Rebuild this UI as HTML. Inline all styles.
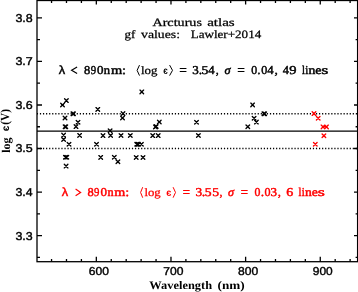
<!DOCTYPE html>
<html><head><meta charset="utf-8"><style>
html,body{margin:0;padding:0;background:#fff;}
svg{display:block;will-change:transform;}
text{text-rendering:geometricPrecision;}
</style></head><body>
<svg width="358" height="292" viewBox="0 0 358 292">
<rect x="37.0" y="0.5" width="320.60" height="261.20" fill="none" stroke="#000" stroke-width="1.3"/>
<path d="M37.00 257.35h3.0M357.60 257.35h-2.0M37.00 235.58h5.0M357.60 235.58h-3.6M37.00 213.81h3.0M357.60 213.81h-2.0M37.00 192.05h5.0M357.60 192.05h-3.6M37.00 170.28h3.0M357.60 170.28h-2.0M37.00 148.51h5.0M357.60 148.51h-3.6M37.00 126.75h3.0M357.60 126.75h-2.0M37.00 104.98h5.0M357.60 104.98h-3.6M37.00 83.21h3.0M357.60 83.21h-2.0M37.00 61.45h5.0M357.60 61.45h-3.6M37.00 39.68h3.0M357.60 39.68h-2.0M37.00 17.91h5.0M357.60 17.91h-3.6M51.55 261.70v-2.7M51.55 0.50v2.4M66.48 261.70v-2.7M66.48 0.50v2.4M81.41 261.70v-2.7M81.41 0.50v2.4M96.33 261.70v-5.0M96.33 0.50v4.0M111.26 261.70v-2.7M111.26 0.50v2.4M126.19 261.70v-2.7M126.19 0.50v2.4M141.12 261.70v-2.7M141.12 0.50v2.4M156.05 261.70v-2.7M156.05 0.50v2.4M170.98 261.70v-5.0M170.98 0.50v4.0M185.91 261.70v-2.7M185.91 0.50v2.4M200.83 261.70v-2.7M200.83 0.50v2.4M215.76 261.70v-2.7M215.76 0.50v2.4M230.69 261.70v-2.7M230.69 0.50v2.4M245.62 261.70v-5.0M245.62 0.50v4.0M260.55 261.70v-2.7M260.55 0.50v2.4M275.48 261.70v-2.7M275.48 0.50v2.4M290.40 261.70v-2.7M290.40 0.50v2.4M305.33 261.70v-2.7M305.33 0.50v2.4M320.26 261.70v-5.0M320.26 0.50v4.0M335.19 261.70v-2.7M335.19 0.50v2.4M350.12 261.70v-2.7M350.12 0.50v2.4" stroke="#000" stroke-width="1.3" fill="none"/>
<path d="M37.0 131.10H357.6" stroke="#000" stroke-width="1.3"/>
<path d="M37.0 113.69H357.6M37.0 148.51H357.6" stroke="#000" stroke-width="1.5" stroke-dasharray="1.2 1.867" stroke-dashoffset="-2.9"/>
<path d="M60.70 103.20L64.30 106.80M60.70 106.80L64.30 103.20M64.60 98.80L68.20 102.40M64.60 102.40L68.20 98.80M71.10 111.90L74.70 115.50M71.10 115.50L74.70 111.90M71.70 111.90L75.30 115.50M71.70 115.50L75.30 111.90M63.20 116.20L66.80 119.80M63.20 119.80L66.80 116.20M76.20 120.50L79.80 124.10M76.20 124.10L79.80 120.50M63.30 124.90L66.90 128.50M63.30 128.50L66.90 124.90M64.00 124.90L67.60 128.50M64.00 128.50L67.60 124.90M74.20 124.80L77.80 128.40M74.20 128.40L77.80 124.80M61.80 133.30L65.40 136.90M61.80 136.90L65.40 133.30M61.80 137.70L65.40 141.30M61.80 141.30L65.40 137.70M77.80 133.60L81.40 137.20M77.80 137.20L81.40 133.60M67.20 142.50L70.80 146.10M67.20 146.10L70.80 142.50M63.60 155.40L67.20 159.00M63.60 159.00L67.20 155.40M65.00 155.40L68.60 159.00M65.00 159.00L68.60 155.40M64.30 164.30L67.90 167.90M64.30 167.90L67.90 164.30M96.00 107.60L99.60 111.20M96.00 111.20L99.60 107.60M101.20 133.80L104.80 137.40M101.20 137.40L104.80 133.80M94.70 142.40L98.30 146.00M94.70 146.00L98.30 142.40M98.90 155.60L102.50 159.20M98.90 159.20L102.50 155.60M121.20 111.80L124.80 115.40M121.20 115.40L124.80 111.80M120.70 116.20L124.30 119.80M120.70 119.80L124.30 116.20M108.30 129.00L111.90 132.60M108.30 132.60L111.90 129.00M108.80 133.70L112.40 137.30M108.80 137.30L112.40 133.70M119.20 133.70L122.80 137.30M119.20 137.30L122.80 133.70M128.50 133.70L132.10 137.30M128.50 137.30L132.10 133.70M112.50 155.50L116.10 159.10M112.50 159.10L116.10 155.50M116.10 159.90L119.70 163.50M116.10 163.50L119.70 159.90M140.00 90.10L143.60 93.70M140.00 93.70L143.60 90.10M153.60 125.10L157.20 128.70M153.60 128.70L157.20 125.10M154.40 124.70L158.00 128.30M154.40 128.30L158.00 124.70M157.50 120.20L161.10 123.80M157.50 123.80L161.10 120.20M150.90 133.80L154.50 137.40M150.90 137.40L154.50 133.80M156.40 133.80L160.00 137.40M156.40 137.40L160.00 133.80M134.90 142.40L138.50 146.00M134.90 146.00L138.50 142.40M135.80 142.40L139.40 146.00M135.80 146.00L139.40 142.40M136.70 142.40L140.30 146.00M136.70 146.00L140.30 142.40M139.60 142.40L143.20 146.00M139.60 146.00L143.20 142.40M134.40 155.70L138.00 159.30M134.40 159.30L138.00 155.70M141.20 155.70L144.80 159.30M141.20 159.30L144.80 155.70M194.70 120.50L198.30 124.10M194.70 124.10L198.30 120.50M196.60 133.70L200.20 137.30M196.60 137.30L200.20 133.70M250.80 103.10L254.40 106.70M250.80 106.70L254.40 103.10M262.10 111.90L265.70 115.50M262.10 115.50L265.70 111.90M262.90 111.90L266.50 115.50M262.90 115.50L266.50 111.90M252.30 116.50L255.90 120.10M252.30 120.10L255.90 116.50M254.60 120.30L258.20 123.90M254.60 123.90L258.20 120.30M246.00 125.00L249.60 128.60M246.00 128.60L249.60 125.00" stroke="#000" stroke-width="1.35" fill="none" stroke-linecap="round"/>
<path d="M312.20 111.80L315.80 115.40M312.20 115.40L315.80 111.80M316.40 116.40L320.00 120.00M316.40 120.00L320.00 116.40M321.20 125.10L324.80 128.70M321.20 128.70L324.80 125.10M324.70 125.10L328.30 128.70M324.70 128.70L328.30 125.10M322.10 133.90L325.70 137.50M322.10 137.50L325.70 133.90M313.50 142.40L317.10 146.00M313.50 146.00L317.10 142.40" stroke="#f00" stroke-width="1.35" fill="none" stroke-linecap="round"/>
<text x="15.43" y="239.53" font-family="Liberation Sans" stroke="currentColor" stroke-width="0.4" font-size="11.4" fill="#000" color="#000" textLength="17.32" lengthAdjust="spacingAndGlyphs" xml:space="preserve">3.3</text>
<text x="15.43" y="196.00" font-family="Liberation Sans" stroke="currentColor" stroke-width="0.4" font-size="11.4" fill="#000" color="#000" textLength="17.13" lengthAdjust="spacingAndGlyphs" xml:space="preserve">3.4</text>
<text x="15.43" y="152.46" font-family="Liberation Sans" stroke="currentColor" stroke-width="0.4" font-size="11.4" fill="#000" color="#000" textLength="17.30" lengthAdjust="spacingAndGlyphs" xml:space="preserve">3.5</text>
<text x="15.43" y="108.93" font-family="Liberation Sans" stroke="currentColor" stroke-width="0.4" font-size="11.4" fill="#000" color="#000" textLength="17.32" lengthAdjust="spacingAndGlyphs" xml:space="preserve">3.6</text>
<text x="15.42" y="65.40" font-family="Liberation Sans" stroke="currentColor" stroke-width="0.4" font-size="11.4" fill="#000" color="#000" textLength="17.41" lengthAdjust="spacingAndGlyphs" xml:space="preserve">3.7</text>
<text x="15.43" y="21.86" font-family="Liberation Sans" stroke="currentColor" stroke-width="0.4" font-size="11.4" fill="#000" color="#000" textLength="17.32" lengthAdjust="spacingAndGlyphs" xml:space="preserve">3.8</text>
<text x="88.89" y="275.40" font-family="Liberation Sans" stroke="currentColor" stroke-width="0.4" font-size="11.4" fill="#000" color="#000" textLength="20.19" lengthAdjust="spacingAndGlyphs" xml:space="preserve">600</text>
<text x="163.38" y="275.40" font-family="Liberation Sans" stroke="currentColor" stroke-width="0.4" font-size="11.4" fill="#000" color="#000" textLength="20.19" lengthAdjust="spacingAndGlyphs" xml:space="preserve">700</text>
<text x="237.97" y="275.40" font-family="Liberation Sans" stroke="currentColor" stroke-width="0.4" font-size="11.4" fill="#000" color="#000" textLength="20.20" lengthAdjust="spacingAndGlyphs" xml:space="preserve">800</text>
<text x="312.84" y="275.40" font-family="Liberation Sans" stroke="currentColor" stroke-width="0.4" font-size="11.4" fill="#000" color="#000" textLength="19.93" lengthAdjust="spacingAndGlyphs" xml:space="preserve">900</text>
<text x="152.46" y="25.80" font-family="Liberation Serif" stroke="currentColor" stroke-width="0.25" font-size="11.3" fill="#000" color="#000" textLength="49.45" lengthAdjust="spacingAndGlyphs" xml:space="preserve">Arcturus</text>
<text x="207.17" y="25.80" font-family="Liberation Serif" stroke="currentColor" stroke-width="0.25" font-size="11.3" fill="#000" color="#000" textLength="27.57" lengthAdjust="spacingAndGlyphs" xml:space="preserve">atlas</text>
<text x="124.54" y="37.60" font-family="Liberation Serif" stroke="currentColor" stroke-width="0.25" font-size="11.3" fill="#000" color="#000" textLength="10.86" lengthAdjust="spacingAndGlyphs" xml:space="preserve">gf</text>
<text x="141.10" y="37.60" font-family="Liberation Serif" stroke="currentColor" stroke-width="0.25" font-size="11.3" fill="#000" color="#000" textLength="38.91" lengthAdjust="spacingAndGlyphs" xml:space="preserve">values:</text>
<text x="190.72" y="37.60" font-family="Liberation Serif" stroke="currentColor" stroke-width="0.25" font-size="11.3" fill="#000" color="#000" textLength="70.48" lengthAdjust="spacingAndGlyphs" xml:space="preserve">Lawler+2014</text>
<text x="58.81" y="73.50" font-family="Liberation Sans" stroke="currentColor" stroke-width="0.4" font-size="12.0" fill="#000" color="#000" textLength="6.40" lengthAdjust="spacingAndGlyphs" xml:space="preserve">λ</text>
<text x="84.12" y="73.50" font-family="Liberation Serif" stroke="currentColor" stroke-width="0.45" font-size="12.0" fill="#000" color="#000" textLength="6.25" lengthAdjust="spacingAndGlyphs" xml:space="preserve">8</text>
<text x="90.75" y="73.50" font-family="Liberation Serif" stroke="currentColor" stroke-width="0.45" font-size="12.0" fill="#000" color="#000" textLength="5.39" lengthAdjust="spacingAndGlyphs" xml:space="preserve">9</text>
<text x="97.11" y="73.50" font-family="Liberation Serif" stroke="currentColor" stroke-width="0.45" font-size="12.0" fill="#000" color="#000" textLength="6.49" lengthAdjust="spacingAndGlyphs" xml:space="preserve">0</text>
<text x="103.71" y="73.50" font-family="Liberation Serif" stroke="currentColor" stroke-width="0.45" font-size="12.0" fill="#000" color="#000" textLength="6.28" lengthAdjust="spacingAndGlyphs" xml:space="preserve">n</text>
<text x="110.90" y="73.50" font-family="Liberation Serif" stroke="currentColor" stroke-width="0.45" font-size="12.0" fill="#000" color="#000" textLength="11.23" lengthAdjust="spacingAndGlyphs" xml:space="preserve">m</text>
<text x="121.96" y="73.50" font-family="Liberation Serif" stroke="currentColor" stroke-width="0.45" font-size="12.0" fill="#000" color="#000" textLength="4.01" lengthAdjust="spacingAndGlyphs" xml:space="preserve">:</text>
<text x="140.94" y="73.50" font-family="Liberation Serif" stroke="currentColor" stroke-width="0.25" font-size="11.3" fill="#000" color="#000" textLength="16.40" lengthAdjust="spacingAndGlyphs" xml:space="preserve">log</text>
<text x="163.28" y="73.50" font-family="Liberation Sans" font-weight="bold" font-size="10.4" fill="#000" color="#000" textLength="4.53" lengthAdjust="spacingAndGlyphs" xml:space="preserve">є</text>
<text x="179.16" y="73.50" font-family="Liberation Sans" stroke="currentColor" stroke-width="0.15" font-size="12.0" fill="#000" color="#000" textLength="7.69" lengthAdjust="spacingAndGlyphs" xml:space="preserve">=</text>
<text x="192.37" y="73.50" font-family="Liberation Serif" stroke="currentColor" stroke-width="0.45" font-size="12.0" fill="#000" color="#000" textLength="6.54" lengthAdjust="spacingAndGlyphs" xml:space="preserve">3</text>
<text x="198.71" y="73.50" font-family="Liberation Serif" stroke="currentColor" stroke-width="0.45" font-size="12.0" fill="#000" color="#000" textLength="3.39" lengthAdjust="spacingAndGlyphs" xml:space="preserve">.</text>
<text x="201.51" y="73.50" font-family="Liberation Serif" stroke="currentColor" stroke-width="0.45" font-size="12.0" fill="#000" color="#000" textLength="6.83" lengthAdjust="spacingAndGlyphs" xml:space="preserve">5</text>
<text x="208.35" y="73.50" font-family="Liberation Serif" stroke="currentColor" stroke-width="0.45" font-size="12.0" fill="#000" color="#000" textLength="6.35" lengthAdjust="spacingAndGlyphs" xml:space="preserve">4</text>
<text x="215.74" y="73.50" font-family="Liberation Serif" stroke="currentColor" stroke-width="0.45" font-size="12.0" fill="#000" color="#000" textLength="3.02" lengthAdjust="spacingAndGlyphs" xml:space="preserve">,</text>
<text x="224.43" y="73.50" font-family="Liberation Serif" font-style="italic" stroke="currentColor" stroke-width="0.45" font-size="12.0" fill="#000" color="#000" textLength="6.08" lengthAdjust="spacingAndGlyphs" xml:space="preserve">σ</text>
<text x="237.16" y="73.50" font-family="Liberation Sans" stroke="currentColor" stroke-width="0.15" font-size="12.0" fill="#000" color="#000" textLength="7.69" lengthAdjust="spacingAndGlyphs" xml:space="preserve">=</text>
<text x="251.15" y="73.50" font-family="Liberation Serif" stroke="currentColor" stroke-width="0.45" font-size="12.0" fill="#000" color="#000" textLength="5.90" lengthAdjust="spacingAndGlyphs" xml:space="preserve">0</text>
<text x="257.31" y="73.50" font-family="Liberation Serif" stroke="currentColor" stroke-width="0.45" font-size="12.0" fill="#000" color="#000" textLength="3.39" lengthAdjust="spacingAndGlyphs" xml:space="preserve">.</text>
<text x="261.24" y="73.50" font-family="Liberation Serif" stroke="currentColor" stroke-width="0.45" font-size="12.0" fill="#000" color="#000" textLength="6.02" lengthAdjust="spacingAndGlyphs" xml:space="preserve">0</text>
<text x="267.35" y="73.50" font-family="Liberation Serif" stroke="currentColor" stroke-width="0.45" font-size="12.0" fill="#000" color="#000" textLength="6.35" lengthAdjust="spacingAndGlyphs" xml:space="preserve">4</text>
<text x="274.49" y="73.50" font-family="Liberation Serif" stroke="currentColor" stroke-width="0.45" font-size="12.0" fill="#000" color="#000" textLength="3.36" lengthAdjust="spacingAndGlyphs" xml:space="preserve">,</text>
<text x="282.76" y="73.50" font-family="Liberation Serif" stroke="currentColor" stroke-width="0.45" font-size="12.0" fill="#000" color="#000" textLength="6.24" lengthAdjust="spacingAndGlyphs" xml:space="preserve">4</text>
<text x="289.33" y="73.50" font-family="Liberation Serif" stroke="currentColor" stroke-width="0.45" font-size="12.0" fill="#000" color="#000" textLength="7.26" lengthAdjust="spacingAndGlyphs" xml:space="preserve">9</text>
<text x="301.89" y="73.50" font-family="Liberation Serif" stroke="currentColor" stroke-width="0.45" font-size="12.0" fill="#000" color="#000" textLength="2.92" lengthAdjust="spacingAndGlyphs" xml:space="preserve">l</text>
<text x="305.17" y="73.50" font-family="Liberation Serif" stroke="currentColor" stroke-width="0.45" font-size="12.0" fill="#000" color="#000" textLength="3.04" lengthAdjust="spacingAndGlyphs" xml:space="preserve">i</text>
<text x="308.49" y="73.50" font-family="Liberation Serif" stroke="currentColor" stroke-width="0.45" font-size="12.0" fill="#000" color="#000" textLength="6.82" lengthAdjust="spacingAndGlyphs" xml:space="preserve">n</text>
<text x="315.36" y="73.50" font-family="Liberation Serif" stroke="currentColor" stroke-width="0.45" font-size="12.0" fill="#000" color="#000" textLength="6.12" lengthAdjust="spacingAndGlyphs" xml:space="preserve">e</text>
<text x="321.25" y="73.50" font-family="Liberation Serif" stroke="currentColor" stroke-width="0.45" font-size="12.0" fill="#000" color="#000" textLength="7.11" lengthAdjust="spacingAndGlyphs" xml:space="preserve">s</text>
<path d="M139.50 65.10L137.10 70.35L139.50 75.60" stroke="#000" stroke-width="1.0" fill="none"/>
<path d="M169.60 65.10L172.50 70.35L169.60 75.60" stroke="#000" stroke-width="1.0" fill="none"/>
<path d="M77.10 67.00L71.60 70.30L77.10 73.60" stroke="#000" stroke-width="1.2" fill="none"/>
<text x="61.81" y="195.60" font-family="Liberation Sans" stroke="currentColor" stroke-width="0.4" font-size="12.0" fill="#f00" color="#f00" textLength="6.40" lengthAdjust="spacingAndGlyphs" xml:space="preserve">λ</text>
<text x="87.42" y="195.60" font-family="Liberation Serif" stroke="currentColor" stroke-width="0.45" font-size="12.0" fill="#f00" color="#f00" textLength="6.25" lengthAdjust="spacingAndGlyphs" xml:space="preserve">8</text>
<text x="94.05" y="195.60" font-family="Liberation Serif" stroke="currentColor" stroke-width="0.45" font-size="12.0" fill="#f00" color="#f00" textLength="5.39" lengthAdjust="spacingAndGlyphs" xml:space="preserve">9</text>
<text x="100.51" y="195.60" font-family="Liberation Serif" stroke="currentColor" stroke-width="0.45" font-size="12.0" fill="#f00" color="#f00" textLength="6.49" lengthAdjust="spacingAndGlyphs" xml:space="preserve">0</text>
<text x="107.62" y="195.60" font-family="Liberation Serif" stroke="currentColor" stroke-width="0.45" font-size="12.0" fill="#f00" color="#f00" textLength="6.17" lengthAdjust="spacingAndGlyphs" xml:space="preserve">n</text>
<text x="114.30" y="195.60" font-family="Liberation Serif" stroke="currentColor" stroke-width="0.45" font-size="12.0" fill="#f00" color="#f00" textLength="11.02" lengthAdjust="spacingAndGlyphs" xml:space="preserve">m</text>
<text x="125.16" y="195.60" font-family="Liberation Serif" stroke="currentColor" stroke-width="0.45" font-size="12.0" fill="#f00" color="#f00" textLength="4.01" lengthAdjust="spacingAndGlyphs" xml:space="preserve">:</text>
<text x="144.44" y="195.60" font-family="Liberation Serif" stroke="currentColor" stroke-width="0.25" font-size="11.3" fill="#f00" color="#f00" textLength="16.30" lengthAdjust="spacingAndGlyphs" xml:space="preserve">log</text>
<text x="166.34" y="195.60" font-family="Liberation Sans" font-weight="bold" font-size="10.4" fill="#f00" color="#f00" textLength="5.09" lengthAdjust="spacingAndGlyphs" xml:space="preserve">є</text>
<text x="182.56" y="195.60" font-family="Liberation Sans" stroke="currentColor" stroke-width="0.15" font-size="12.0" fill="#f00" color="#f00" textLength="7.69" lengthAdjust="spacingAndGlyphs" xml:space="preserve">=</text>
<text x="195.46" y="195.60" font-family="Liberation Serif" stroke="currentColor" stroke-width="0.45" font-size="12.0" fill="#f00" color="#f00" textLength="6.66" lengthAdjust="spacingAndGlyphs" xml:space="preserve">3</text>
<text x="201.85" y="195.60" font-family="Liberation Serif" stroke="currentColor" stroke-width="0.45" font-size="12.0" fill="#f00" color="#f00" textLength="3.60" lengthAdjust="spacingAndGlyphs" xml:space="preserve">.</text>
<text x="204.81" y="195.60" font-family="Liberation Serif" stroke="currentColor" stroke-width="0.45" font-size="12.0" fill="#f00" color="#f00" textLength="6.83" lengthAdjust="spacingAndGlyphs" xml:space="preserve">5</text>
<text x="212.21" y="195.60" font-family="Liberation Serif" stroke="currentColor" stroke-width="0.45" font-size="12.0" fill="#f00" color="#f00" textLength="6.83" lengthAdjust="spacingAndGlyphs" xml:space="preserve">5</text>
<text x="219.44" y="195.60" font-family="Liberation Serif" stroke="currentColor" stroke-width="0.45" font-size="12.0" fill="#f00" color="#f00" textLength="3.02" lengthAdjust="spacingAndGlyphs" xml:space="preserve">,</text>
<text x="227.94" y="195.60" font-family="Liberation Serif" font-style="italic" stroke="currentColor" stroke-width="0.45" font-size="12.0" fill="#f00" color="#f00" textLength="5.98" lengthAdjust="spacingAndGlyphs" xml:space="preserve">σ</text>
<text x="240.56" y="195.60" font-family="Liberation Sans" stroke="currentColor" stroke-width="0.15" font-size="12.0" fill="#f00" color="#f00" textLength="7.69" lengthAdjust="spacingAndGlyphs" xml:space="preserve">=</text>
<text x="254.55" y="195.60" font-family="Liberation Serif" stroke="currentColor" stroke-width="0.45" font-size="12.0" fill="#f00" color="#f00" textLength="5.90" lengthAdjust="spacingAndGlyphs" xml:space="preserve">0</text>
<text x="260.71" y="195.60" font-family="Liberation Serif" stroke="currentColor" stroke-width="0.45" font-size="12.0" fill="#f00" color="#f00" textLength="3.39" lengthAdjust="spacingAndGlyphs" xml:space="preserve">.</text>
<text x="264.64" y="195.60" font-family="Liberation Serif" stroke="currentColor" stroke-width="0.45" font-size="12.0" fill="#f00" color="#f00" textLength="6.02" lengthAdjust="spacingAndGlyphs" xml:space="preserve">0</text>
<text x="270.57" y="195.60" font-family="Liberation Serif" stroke="currentColor" stroke-width="0.45" font-size="12.0" fill="#f00" color="#f00" textLength="6.54" lengthAdjust="spacingAndGlyphs" xml:space="preserve">3</text>
<text x="277.81" y="195.60" font-family="Liberation Serif" stroke="currentColor" stroke-width="0.45" font-size="12.0" fill="#f00" color="#f00" textLength="3.19" lengthAdjust="spacingAndGlyphs" xml:space="preserve">,</text>
<text x="286.30" y="195.60" font-family="Liberation Serif" stroke="currentColor" stroke-width="0.45" font-size="12.0" fill="#f00" color="#f00" textLength="7.02" lengthAdjust="spacingAndGlyphs" xml:space="preserve">6</text>
<text x="298.39" y="195.60" font-family="Liberation Serif" stroke="currentColor" stroke-width="0.45" font-size="12.0" fill="#f00" color="#f00" textLength="2.92" lengthAdjust="spacingAndGlyphs" xml:space="preserve">l</text>
<text x="301.67" y="195.60" font-family="Liberation Serif" stroke="currentColor" stroke-width="0.45" font-size="12.0" fill="#f00" color="#f00" textLength="3.04" lengthAdjust="spacingAndGlyphs" xml:space="preserve">i</text>
<text x="304.99" y="195.60" font-family="Liberation Serif" stroke="currentColor" stroke-width="0.45" font-size="12.0" fill="#f00" color="#f00" textLength="6.82" lengthAdjust="spacingAndGlyphs" xml:space="preserve">n</text>
<text x="311.86" y="195.60" font-family="Liberation Serif" stroke="currentColor" stroke-width="0.45" font-size="12.0" fill="#f00" color="#f00" textLength="6.12" lengthAdjust="spacingAndGlyphs" xml:space="preserve">e</text>
<text x="317.75" y="195.60" font-family="Liberation Serif" stroke="currentColor" stroke-width="0.45" font-size="12.0" fill="#f00" color="#f00" textLength="7.11" lengthAdjust="spacingAndGlyphs" xml:space="preserve">s</text>
<path d="M142.70 187.20L140.60 192.45L142.70 197.70" stroke="#f00" stroke-width="1.0" fill="none"/>
<path d="M173.10 187.20L175.50 192.45L173.10 197.70" stroke="#f00" stroke-width="1.0" fill="none"/>
<path d="M75.60 189.10L80.60 192.40L75.60 195.70" stroke="#f00" stroke-width="1.2" fill="none"/>
<text x="149.33" y="288.80" font-family="Liberation Serif" font-weight="bold" font-size="11.5" fill="#000" color="#000" textLength="62.76" lengthAdjust="spacingAndGlyphs" xml:space="preserve">Wavelength</text>
<text x="217.62" y="288.80" font-family="Liberation Serif" font-weight="bold" font-size="11.5" fill="#000" color="#000" textLength="27.16" lengthAdjust="spacingAndGlyphs" xml:space="preserve">(nm)</text>
<text transform="translate(9.50 0) rotate(-90)" x="-152.83" y="0" font-family="Liberation Serif" font-weight="bold" font-size="11.8" textLength="15.35" lengthAdjust="spacingAndGlyphs">log</text>
<text transform="translate(9.20 0) rotate(-90)" x="-131.19" y="0" font-family="Liberation Sans" font-weight="bold" font-size="10.4" textLength="5.55" lengthAdjust="spacingAndGlyphs">є</text>
<text transform="translate(9.30 0) rotate(-90)" x="-124.69" y="0" font-family="Liberation Serif" font-weight="bold" font-size="12.4" textLength="15.59" lengthAdjust="spacingAndGlyphs">(V)</text>
</svg>
</body></html>
